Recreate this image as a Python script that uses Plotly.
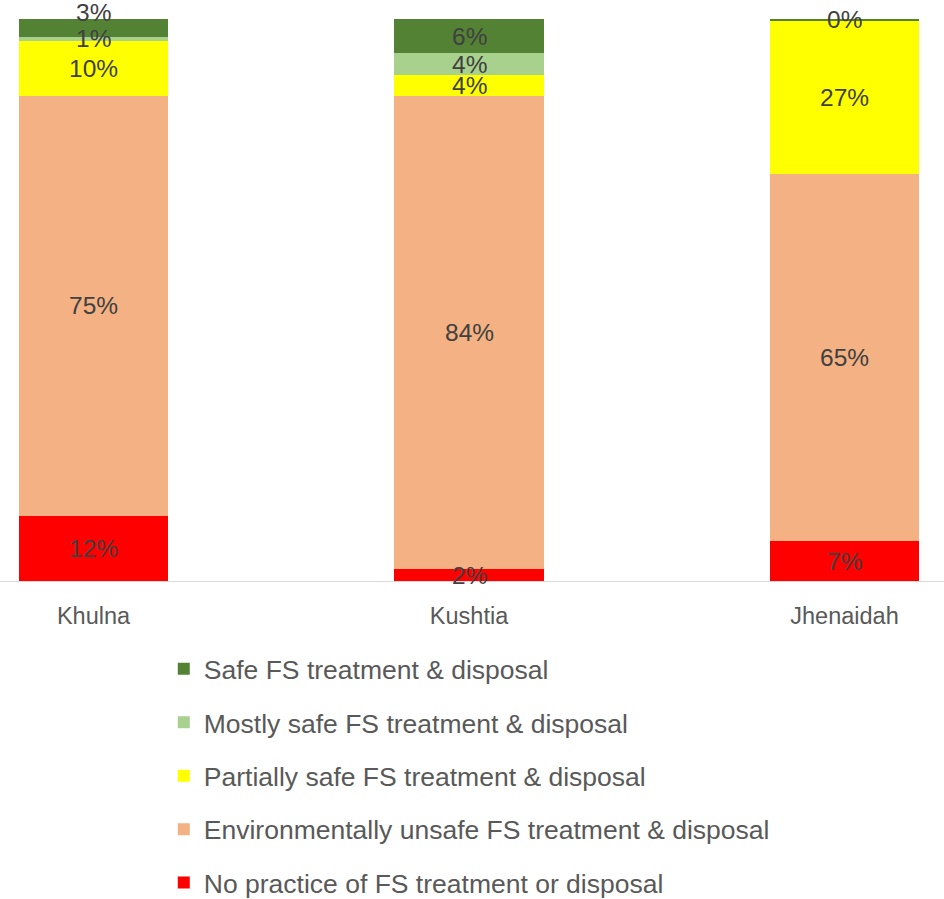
import plotly.graph_objects as go

cities = ["Khulna", "Kushtia", "Jhenaidah"]

# bottom-to-top stacking order (percent of each bar)
no_practice = [11.6, 2.1, 7.1]
env_unsafe = [74.7, 84.2, 65.4]
partially_safe = [9.8, 3.7, 27.2]
mostly_safe = [0.7, 3.9, 0.0]
safe = [3.2, 6.1, 0.3]

series = [
    ("No practice of FS treatment or disposal", no_practice, "#ff0000"),
    ("Environmentally unsafe FS treatment & disposal", env_unsafe, "#f4b183"),
    ("Partially safe FS treatment & disposal", partially_safe, "#ffff00"),
    ("Mostly safe FS treatment & disposal", mostly_safe, "#a9d18e"),
    ("Safe FS treatment & disposal", safe, "#548235"),
]

FONT = "Liberation Sans"
fig = go.Figure()
n = len(series)
for i, (name, vals, col) in enumerate(series):
    fig.add_trace(go.Bar(
        x=cities, y=vals, name=name, legendgroup=f"g{i}",
        legendrank=n - i,
        marker=dict(color=col, line=dict(width=0)),
        width=0.397, hoverinfo="skip",
    ))

# data labels at segment centers
base = [0.0] * len(cities)
for si, (name, vals, col) in enumerate(series):
    for ci, v in enumerate(vals):
        center = base[ci] + v / 2
        base[ci] += v
        if v == 0:
            continue
        shift = 0
        if name.startswith("Safe") and cities[ci] == "Khulna":
            shift = 15
        fig.add_annotation(x=cities[ci], y=center, text=f"{round(v)}%",
                           showarrow=False, yshift=shift,
                           font=dict(family=FONT, size=24.5, color="#404040"))

fig.update_layout(
    width=944, height=899,
    barmode="stack", bargap=0.6,
    margin=dict(l=0, r=0, t=19, b=318, autoexpand=False),
    paper_bgcolor="white", plot_bgcolor="white",
    font=dict(family=FONT, color="#595959"),
    xaxis=dict(range=[-0.249, 2.265], showgrid=False, showline=True,
               linecolor="#d9d9d9", linewidth=1, ticks="outside",
               ticklen=14, tickcolor="rgba(0,0,0,0)",
               tickfont=dict(family=FONT, size=23.5, color="#595959")),
    yaxis=dict(range=[0, 100], visible=False, showgrid=False),
    legend=dict(orientation="v", traceorder="grouped", tracegroupgap=16,
                x=0.1735, xanchor="left", y=-0.114, yanchor="top",
                font=dict(family=FONT, size=26.5, color="#595959")),
    showlegend=True,
)

fig.write_html("out.html", config={"displayModeBar": False},
               post_script="document.body.style.margin='0px';")
